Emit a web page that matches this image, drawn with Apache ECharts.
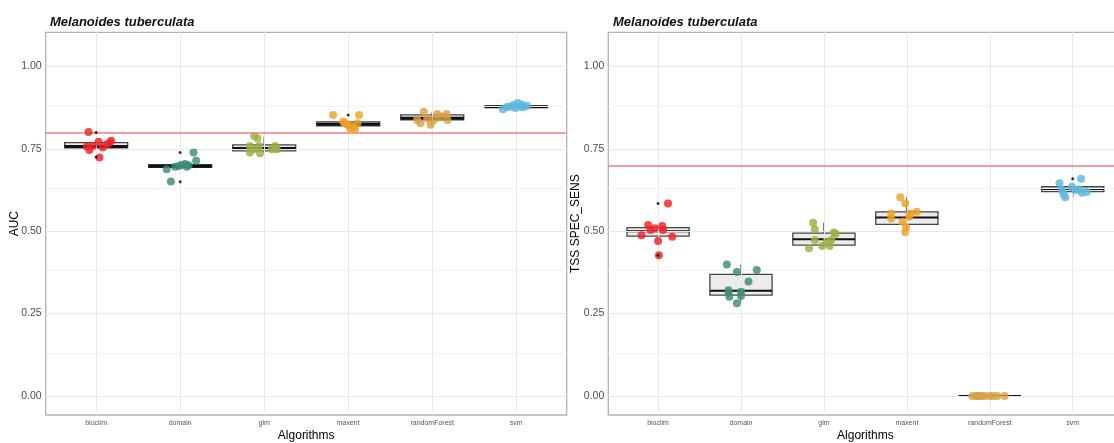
<!DOCTYPE html>
<html>
<head>
<meta charset="utf-8">
<script src="https://cdn.jsdelivr.net/npm/echarts@6/dist/echarts.min.js"></script>
<style>
html,body{margin:0;padding:0;background:#fff;}
#c{width:1114px;height:443px;}
</style>
</head>
<body>
<div id="c"></div>
<script>
// ---------- data ----------
const categories = ['bioclim', 'domain', 'glm', 'maxent', 'randomForest', 'svm'];
const yTicks = [0, 0.25, 0.5, 0.75, 1.0];
const yMinorTicks = [0.125, 0.375, 0.625, 0.875];
const xTicks = [0, 1, 2, 3, 4, 5];
const titleText = 'Melanoides tuberculata';
const xName = 'Algorithms';
const aucName = 'AUC';
const tssName = 'TSS SPEC_SENS';
const aucThreshold = 0.8;
const tssThreshold = 0.7;

// box stats: [lower whisker, Q1, median, Q3, upper whisker]
const aucBox = [
  [0.746, 0.753, 0.757, 0.769, 0.775],
  [0.688, 0.694, 0.697, 0.702, 0.714],
  [0.737, 0.744, 0.751, 0.762, 0.787],
  [0.808, 0.820, 0.825, 0.832, 0.833],
  [0.823, 0.838, 0.843, 0.853, 0.863],
  [0.870, 0.876, 0.878, 0.880, 0.889]
];
const aucOutliers = [[0, 0.800], [0, 0.725], [1, 0.739], [1, 0.650], [3, 0.853]];
const aucValues = [
  [0.801, 0.724, 0.757, 0.747, 0.772, 0.754, 0.764, 0.775, 0.759, 0.769],
  [0.651, 0.688, 0.739, 0.714, 0.698, 0.701, 0.704, 0.700, 0.696, 0.696],
  [0.789, 0.782, 0.759, 0.739, 0.759, 0.737, 0.759, 0.749, 0.749, 0.749],
  [0.853, 0.853, 0.833, 0.825, 0.820, 0.808, 0.828, 0.816, 0.828, 0.813],
  [0.863, 0.838, 0.828, 0.843, 0.823, 0.856, 0.848, 0.856, 0.838, 0.838],
  [0.870, 0.884, 0.889, 0.874, 0.884, 0.878, 0.878, 0.881, 0.877, 0.877]
];
const aucJitter = [
  [-0.09, 0.04, -0.11, -0.08, 0.03, 0.08, 0.13, 0.18, -0.04, 0.16],
  [-0.11, -0.16, 0.16, 0.19, -0.02, 0.02, 0.06, 0.10, -0.06, 0.08],
  [-0.12, -0.08, -0.17, -0.17, -0.06, -0.05, 0.13, 0.15, -0.12, 0.09],
  [-0.18, 0.13, -0.06, -0.02, 0.03, 0.08, 0.11, 0.06, -0.04, 0.02],
  [-0.10, -0.18, -0.14, -0.06, -0.02, 0.06, 0.10, 0.17, 0.18, 0.02],
  [-0.16, -0.03, 0.02, -0.01, 0.07, -0.07, 0.05, 0.13, -0.11, 0.09]
];

const tssBox = [
  [0.470, 0.485, 0.500, 0.511, 0.519],
  [0.281, 0.306, 0.319, 0.369, 0.399],
  [0.448, 0.458, 0.476, 0.494, 0.526],
  [0.498, 0.521, 0.542, 0.559, 0.603],
  [0.000, 0.000, 0.000, 0.000, 0.000],
  [0.603, 0.620, 0.628, 0.635, 0.646]
];
const tssOutliers = [[0, 0.584], [0, 0.427], [5, 0.659]];
const tssValues = [
  [0.584, 0.427, 0.470, 0.488, 0.483, 0.519, 0.504, 0.509, 0.516, 0.504],
  [0.399, 0.376, 0.382, 0.347, 0.321, 0.301, 0.303, 0.281, 0.313, 0.316],
  [0.526, 0.506, 0.448, 0.455, 0.455, 0.496, 0.473, 0.473, 0.468, 0.492],
  [0.603, 0.585, 0.554, 0.539, 0.559, 0.544, 0.529, 0.511, 0.498, 0.554],
  [0, 0, 0, 0, 0, 0, 0, 0, 0, 0],
  [0.659, 0.646, 0.625, 0.603, 0.612, 0.635, 0.627, 0.617, 0.619, 0.625]
];
const tssJitter = [
  [0.12, 0.01, 0.00, -0.20, 0.17, -0.12, -0.09, -0.04, 0.05, 0.06],
  [-0.17, -0.05, 0.19, 0.09, -0.15, -0.14, 0.00, -0.05, -0.15, 0.00],
  [-0.13, -0.11, -0.18, -0.02, 0.07, 0.12, 0.09, -0.11, 0.03, 0.14],
  [-0.08, -0.02, -0.19, -0.19, 0.12, 0.03, -0.05, -0.01, -0.02, 0.04],
  [-0.21, -0.17, -0.15, -0.13, -0.10, -0.06, 0.00, 0.04, 0.09, 0.18],
  [0.10, -0.16, -0.13, -0.09, -0.11, -0.01, 0.08, 0.11, 0.17, 0.03]
];

// ---------- style ----------
const pointColors = ['#ee2226', '#3e8b78', '#9db043', '#eba126', '#daa044', '#5db7dd'];
const FONT = "'Liberation Sans', Arial, sans-serif";
const borderGray = '#b3b3b3';
const yRange = [-0.058, 1.104];
const xRange = [-0.6, 5.6];

function boxRenderer(medianWidth) {
  return function (params, api) {
    const x = api.value(0);
    const lo = api.coord([x, api.value(1)]);
    const q1 = api.coord([x, api.value(2)]);
    const md = api.coord([x, api.value(3)]);
    const q3 = api.coord([x, api.value(4)]);
    const hi = api.coord([x, api.value(5)]);
    const w = api.size([0.75, 0])[0];
    const l = lo[0] - w / 2;
    const edge = { stroke: '#444', lineWidth: 1.3 };
    return {
      type: 'group',
      children: [
        { type: 'line', shape: { x1: lo[0], y1: lo[1], x2: q1[0], y2: q1[1] }, style: edge },
        { type: 'line', shape: { x1: q3[0], y1: q3[1], x2: hi[0], y2: hi[1] }, style: edge },
        { type: 'rect', shape: { x: l, y: q3[1], width: w, height: q1[1] - q3[1] },
          style: { fill: '#ececec', stroke: '#444', lineWidth: 1.3 } },
        { type: 'line', shape: { x1: l, y1: md[1], x2: l + w, y2: md[1] },
          style: { stroke: '#111', lineWidth: medianWidth } }
      ]
    };
  };
}

function gridLines() {
  const d = [];
  yTicks.forEach(v => d.push({ yAxis: v, lineStyle: { color: '#e8e8e8', width: 1, type: 'solid' } }));
  yMinorTicks.forEach(v => d.push({ yAxis: v, lineStyle: { color: '#f2f2f2', width: 1, type: 'solid' } }));
  xTicks.forEach(v => d.push({ xAxis: v, lineStyle: { color: '#e8e8e8', width: 1, type: 'solid' } }));
  return d;
}

function panelSeries(idx, box, outliers, values, jitter, threshold, medianWidth) {
  const pts = [];
  values.forEach((arr, i) => arr.forEach((v, j) => {
    pts.push({ value: [i + jitter[i][j], v], itemStyle: { color: pointColors[i] } });
  }));
  return [
    { type: 'scatter', xAxisIndex: idx, yAxisIndex: idx, data: [], z: 1, silent: true,
      markLine: { silent: true, symbol: 'none', label: { show: false }, animation: false, data: gridLines() } },
    { type: 'custom', xAxisIndex: idx, yAxisIndex: idx, z: 3,
      renderItem: boxRenderer(medianWidth),
      encode: { x: 0, y: [1, 2, 3, 4, 5] },
      data: box.map((b, i) => [i].concat(b)) },
    { type: 'scatter', xAxisIndex: idx, yAxisIndex: idx, data: [], z: 4, silent: true,
      markLine: { silent: true, symbol: 'none', label: { show: false }, animation: false,
        data: [{ yAxis: threshold, lineStyle: { color: '#f07f7f', width: 1.6, type: 'solid' } }] } },
    { type: 'scatter', xAxisIndex: idx, yAxisIndex: idx, z: 5, symbolSize: 8,
      itemStyle: { opacity: 0.82 }, data: pts },
    { type: 'scatter', xAxisIndex: idx, yAxisIndex: idx, z: 6, symbolSize: 3,
      itemStyle: { color: '#000' }, data: outliers }
  ];
}

function xAxisDef(idx) {
  return {
    type: 'value', gridIndex: idx, min: xRange[0], max: xRange[1],
    name: xName, nameLocation: 'middle', nameGap: 15, nameMoveOverlap: false,
    nameTextStyle: { fontFamily: FONT, fontSize: 12, color: '#000' },
    axisLine: { show: false },
    axisTick: { show: true, length: 3, customValues: xTicks, lineStyle: { color: borderGray } },
    axisLabel: { customValues: xTicks, margin: 5, fontFamily: FONT, fontSize: 7, color: '#555',
      formatter: v => categories[Math.round(v)] || '' },
    splitLine: { show: false }
  };
}
function yAxisDef(idx, name, gap) {
  return {
    type: 'value', gridIndex: idx, min: yRange[0], max: yRange[1],
    name: name, nameLocation: 'middle', nameGap: gap, nameRotate: 90, nameMoveOverlap: false,
    nameTextStyle: { fontFamily: FONT, fontSize: 12, color: '#000' },
    axisLine: { show: false },
    axisTick: { show: true, length: 3, customValues: yTicks, lineStyle: { color: borderGray } },
    axisLabel: { customValues: yTicks, margin: 4, fontFamily: FONT, fontSize: 10.5, color: '#4d4d4d',
      formatter: v => v.toFixed(2) },
    splitLine: { show: false }
  };
}

const chart = echarts.init(document.getElementById('c'), null, { renderer: 'canvas' });
chart.setOption({
  animation: false,
  backgroundColor: '#fff',
  title: [
    { text: titleText, left: 45, top: 11, textStyle: { fontFamily: FONT, fontSize: 13, fontWeight: 'bold', fontStyle: 'italic', color: '#111' } },
    { text: titleText, left: 608, top: 11, textStyle: { fontFamily: FONT, fontSize: 13, fontWeight: 'bold', fontStyle: 'italic', color: '#111' } }
  ],
  grid: [
    { left: 45.7, right: 547.3, top: 32.3, bottom: 28, outerBoundsMode: 'none', containLabel: false, show: true, borderColor: borderGray, borderWidth: 1.3, backgroundColor: '#fff' },
    { left: 608.3, right: -8.5, top: 32.3, bottom: 28, outerBoundsMode: 'none', containLabel: false, show: true, borderColor: borderGray, borderWidth: 1.3, backgroundColor: '#fff' }
  ],
  xAxis: [xAxisDef(0), xAxisDef(1)],
  yAxis: [yAxisDef(0, aucName, 25), yAxisDef(1, tssName, 27)],
  series: []
    .concat(panelSeries(0, aucBox, aucOutliers, aucValues, aucJitter, aucThreshold, 3))
    .concat(panelSeries(1, tssBox, tssOutliers, tssValues, tssJitter, tssThreshold, 2))
});
</script>
</body>
</html>
